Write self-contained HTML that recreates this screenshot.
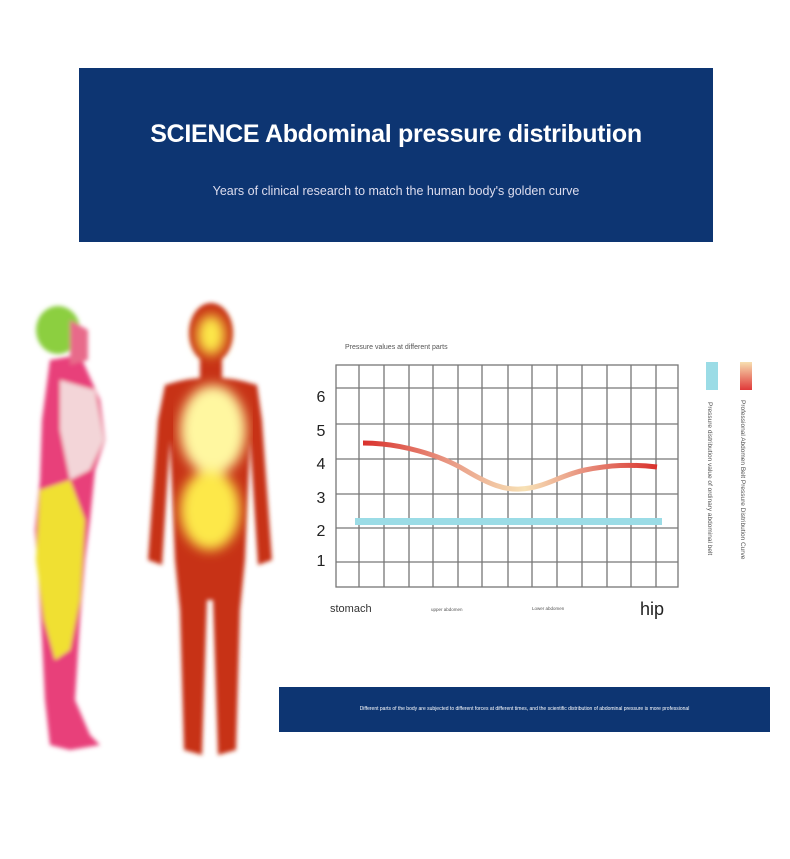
<!DOCTYPE html>
<html><head><meta charset="utf-8"><style>
body{margin:0;width:790px;height:859px;background:#fff;position:relative;overflow:hidden;font-family:"Liberation Sans",sans-serif}
.banner{position:absolute;left:79px;top:68px;width:634px;height:174px;background:#0d3572;color:#fff;text-align:center}
.banner h1{margin:0;position:absolute;top:52px;width:100%;font-size:25px;font-weight:bold;letter-spacing:-0.3px}
.banner p{margin:0;position:absolute;top:116px;width:100%;font-size:12.5px;color:#dde}
.bot{position:absolute;left:279px;top:687px;width:491px;height:45px;background:#0d3572;color:#fff;font-size:5px;text-align:center;line-height:45px}
</style></head><body>
<div class="banner"><h1>SCIENCE Abdominal pressure distribution</h1><p>Years of clinical research to match the human body's golden curve</p></div>
<svg width="790" height="859" style="position:absolute;left:0;top:0">
<defs>
<filter id="bl"><feGaussianBlur stdDeviation="6"/></filter>
<filter id="bl2"><feGaussianBlur stdDeviation="2"/></filter>
<linearGradient id="cg" x1="363" y1="0" x2="657" y2="0" gradientUnits="userSpaceOnUse">
<stop offset="0" stop-color="#d9312c"/><stop offset="0.3" stop-color="#e99b86"/><stop offset="0.55" stop-color="#f7e1b5"/><stop offset="0.75" stop-color="#e8917e"/><stop offset="1" stop-color="#d9312c"/></linearGradient>
<linearGradient id="lg" x1="0" y1="0" x2="0" y2="1"><stop offset="0" stop-color="#f7dfb0"/><stop offset="1" stop-color="#e0393a"/></linearGradient>
</defs>
<!-- side figure -->
<g filter="url(#bl2)">
<path d="M50 360 L80 355 L100 400 L105 440 L95 470 L90 520 L85 560 L80 620 L75 700 L90 735 L100 745 L70 750 L50 745 L45 700 L42 640 L38 570 L35 530 L40 480 L42 420 Z" fill="#e8407a"/>
<path d="M40 490 L70 480 L85 520 L80 600 L70 650 L55 660 L44 620 L36 560 Z" fill="#f0e030"/>
<path d="M60 380 L95 390 L104 440 L90 470 L70 480 L60 430 Z" fill="#f3d5d8"/>
<ellipse cx="58" cy="330" rx="22" ry="24" fill="#8ccf40"/>
<path d="M70 320 L88 330 L88 360 L70 365 Z" fill="#e86a8a"/>
</g>
<!-- front figure -->
<g filter="url(#bl2)" fill="#c73018">
<ellipse cx="211" cy="333" rx="22" ry="30"/>
<rect x="200" y="355" width="22" height="30"/>
<path d="M165 385 Q211 370 257 385 L262 420 L272 560 L258 565 L250 440 L245 560 L240 610 L236 750 L218 755 L213 600 L207 600 L202 755 L184 750 L180 610 L175 560 L170 440 L162 565 L148 560 L158 420 Z"/>
</g>
<g filter="url(#bl)" fill="#fde84a">
<ellipse cx="211" cy="335" rx="14" ry="20"/>
<ellipse cx="213" cy="430" rx="33" ry="45" fill="#fff7a0"/>
<ellipse cx="210" cy="510" rx="30" ry="40"/>
</g>
<!-- chart -->
<text x="345" y="349" font-size="7" fill="#555">Pressure values at different parts</text>
<g stroke="#777" stroke-width="1.3" fill="none">
<rect x="336" y="365" width="342" height="222"/>
<path d="M336 388H678M336 424H678M336 459H678M336 494H678M336 528H678M336 562H678"/>
<path d="M359 365V587M384 365V587M409 365V587M433 365V587M458 365V587M482 365V587M508 365V587M532 365V587M557 365V587M582 365V587M607 365V587M631 365V587M656 365V587"/>
</g>
<g font-size="16" fill="#222" text-anchor="middle">
<text x="321" y="402">6</text><text x="321" y="436">5</text><text x="321" y="469">4</text><text x="321" y="503">3</text><text x="321" y="536">2</text><text x="321" y="566">1</text>
</g>
<rect x="355" y="518" width="307" height="7" fill="#9bdce6"/>
<path d="M363 443 C400 443 440 455 465 470 C490 485 505 490 520 489 C545 488 560 475 585 470 C610 465 630 464 657 467" stroke="url(#cg)" stroke-width="5" fill="none"/>
<text x="330" y="612" font-size="11" fill="#333">stomach</text>
<text x="431" y="611" font-size="4.5" fill="#555">upper abdomen</text>
<text x="532" y="610" font-size="4.5" fill="#555">Lower abdomen</text>
<text x="640" y="615" font-size="18" fill="#222">hip</text>
<rect x="706" y="362" width="12" height="28" fill="#9bdce6"/>
<rect x="740" y="362" width="12" height="28" fill="url(#lg)"/>
<text transform="translate(708,402) rotate(90)" font-size="6.5" fill="#555">Pressure distribution value of ordinary abdominal belt</text>
<text transform="translate(741,400) rotate(90)" font-size="6.5" fill="#555">Professional Abdomen Belt Pressure Distribution Curve</text>
</svg>
<div class="bot">Different parts of the body are subjected to different forces at different times, and the scientific distribution of abdominal pressure is more professional</div>
</body></html>
